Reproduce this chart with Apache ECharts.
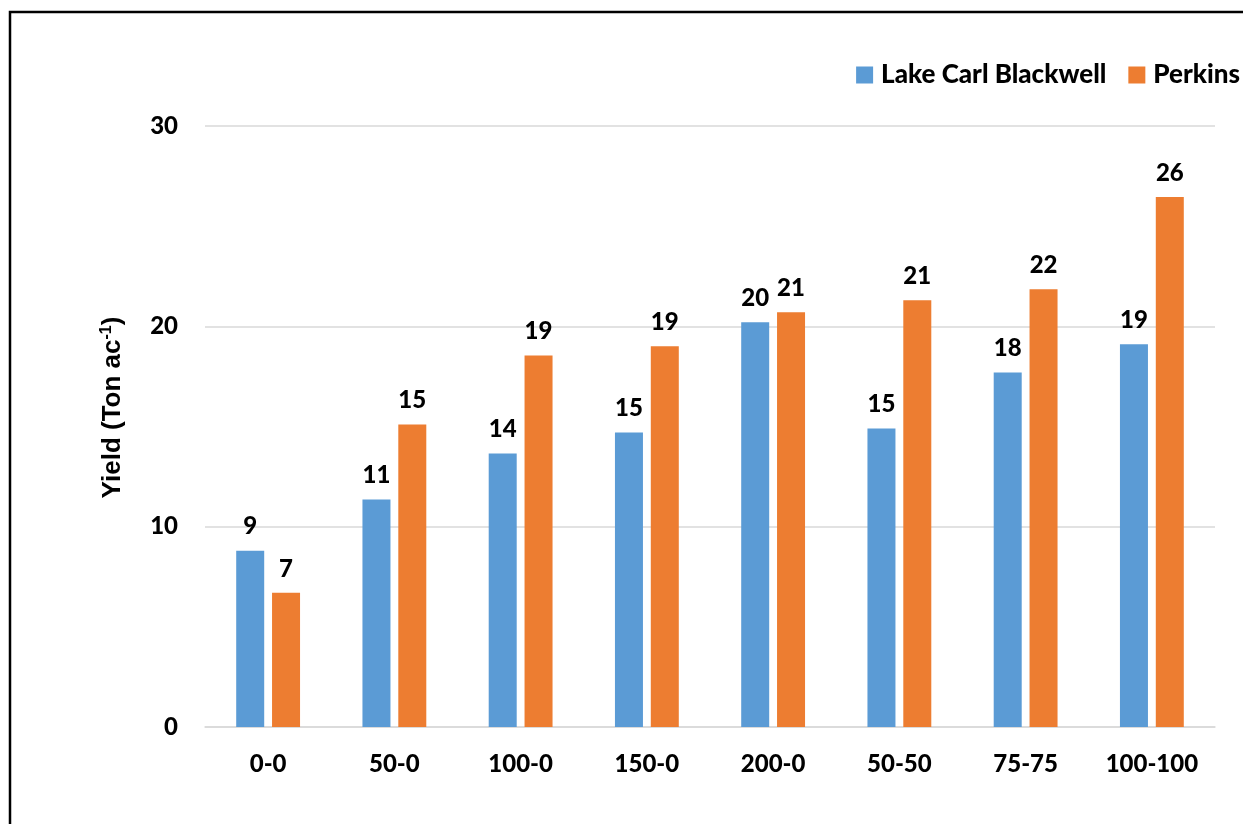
<!DOCTYPE html>
<html>
<head>
<meta charset="utf-8">
<style>
  html, body { margin: 0; padding: 0; background: #fff; }
  #chart { width: 1243px; height: 824px; }
</style>
<script src="https://cdn.jsdelivr.net/npm/echarts@6/dist/echarts.min.js"></script>
</head>
<body>
<div id="chart"></div>
<script>
// Nitrogen rate treatments (kg N ha-1, pre-plant - topdress)
const treatments = ['0-0', '50-0', '100-0', '150-0', '200-0', '50-50', '75-75', '100-100'];
// Yield (ton ac-1) by site
const lakeCarlBlackwell = [8.8, 11.35, 13.65, 14.7, 20.2, 14.9, 17.7, 19.1];
const perkins = [6.7, 15.1, 18.55, 19.0, 20.7, 21.3, 21.85, 26.45];
const yTicks = { min: 0, max: 30, interval: 10 };

const FONT = 'Lato';
const WEIGHT = 900;
const chart = echarts.init(document.getElementById('chart'), null, { renderer: 'canvas' });

const labelStyle = {
  show: true,
  position: 'top',
  distance: 12,
  fontFamily: FONT,
  fontWeight: WEIGHT,
  fontSize: 24,
  color: '#000',
  formatter: p => Math.round(p.value)
};

chart.setOption({
  backgroundColor: '#fff',
  animation: false,
  graphic: [{
    type: 'rect',
    shape: { x: 10, y: 12, width: 2000, height: 2000 },
    style: { fill: 'none', stroke: '#000', lineWidth: 2.5 },
    z: 100
  }],
  legend: {
    right: -2,
    top: 57,
    itemWidth: 17,
    itemHeight: 17,
    itemGap: 22,
    icon: 'rect',
    textStyle: { fontFamily: FONT, fontWeight: WEIGHT, fontSize: 26, color: '#000', padding: [0, 0, 0, 3] },
    data: ['Lake Carl Blackwell', 'Perkins']
  },
  grid: { left: 205, right: 28, top: 126, bottom: 97 },
  xAxis: {
    type: 'category',
    data: treatments,
    axisLine: { show: true, lineStyle: { color: '#d9d9d9', width: 1.5 } },
    axisTick: { show: false },
    axisLabel: { margin: 25, fontFamily: FONT, fontWeight: WEIGHT, fontSize: 24, color: '#000' }
  },
  yAxis: {
    type: 'value',
    min: yTicks.min,
    max: yTicks.max,
    interval: yTicks.interval,
    axisLine: { show: false },
    axisTick: { show: false },
    splitLine: { lineStyle: { color: '#d9d9d9', width: 1.5 } },
    axisLabel: { margin: 27, fontFamily: FONT, fontWeight: WEIGHT, fontSize: 24, color: '#000' },
    name: '{b|Yield (Ton ac}{sup|-1}{b|)}',
    nameLocation: 'middle',
    nameGap: 78,
    nameRotate: 90,
    nameTextStyle: {
      padding: [0, 0, 0, 38],
      rich: {
        b: { fontFamily: 'Liberation Sans', fontWeight: 'bold', fontSize: 26, color: '#000' },
        sup: { fontFamily: 'Liberation Sans', fontWeight: 'bold', fontSize: 16, color: '#000', verticalAlign: 'top', padding: [0, 0, 12, 0] }
      }
    }
  },
  series: [
    {
      name: 'Lake Carl Blackwell',
      type: 'bar',
      data: lakeCarlBlackwell,
      barWidth: 28,
      barGap: '28%',
      itemStyle: { color: '#5b9bd5' },
      label: labelStyle
    },
    {
      name: 'Perkins',
      type: 'bar',
      data: perkins,
      barWidth: 28,
      itemStyle: { color: '#ed7d31' },
      label: labelStyle
    }
  ]
});
</script>
</body>
</html>
